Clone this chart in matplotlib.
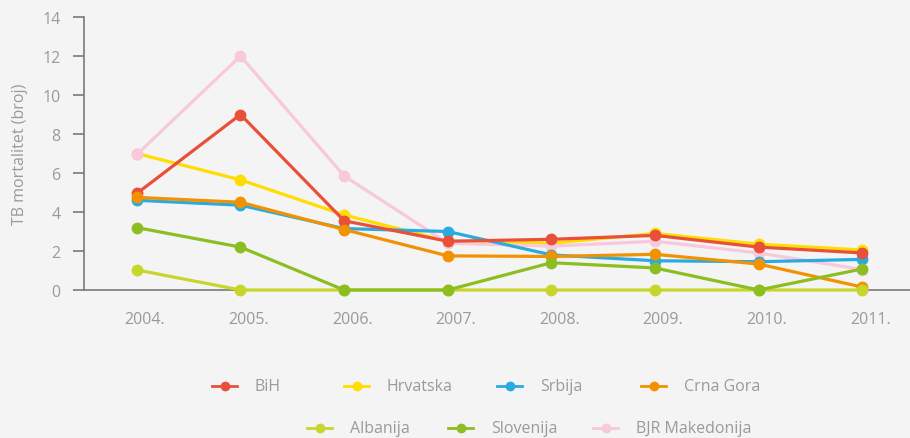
import matplotlib.pyplot as plt
import matplotlib.transforms as mtransforms
from matplotlib.lines import Line2D

years = ['2004.', '2005.', '2006.', '2007.', '2008.', '2009.', '2010.', '2011.']

bih = [4.95, 9.0, 3.55, 2.5, 2.6, 2.8, 2.2, 1.9]
hrvatska = [7.0, 5.65, 3.85, 2.5, 2.4, 2.9, 2.35, 2.05]
srbija = [4.6, 4.35, 3.15, 3.0, 1.8, 1.5, 1.45, 1.57]
crna_gora = [4.75, 4.5, 3.1, 1.75, 1.72, 1.83, 1.33, 0.15]
albanija = [1.03, 0, 0, 0, 0, 0, 0, 0]
slovenija = [3.2, 2.2, 0, 0, 1.4, 1.13, 0, 1.08]
makedonija = [6.95, 12.0, 5.85, 2.4, 2.25, 2.5, 1.9, 1.05]

GRAY = '#9a9a9a'
BG = '#f4f4f4'
W, H = 910, 439

plt.rcParams['font.family'] = ['Open Sans', 'DejaVu Sans']

series = [
    ('BiH', bih, '#e8503a'),
    ('Hrvatska', hrvatska, '#ffdd00'),
    ('Srbija', srbija, '#29abe2'),
    ('Crna Gora', crna_gora, '#f39200'),
    ('Albanija', albanija, '#c8d62b'),
    ('Slovenija', slovenija, '#8cbe22'),
    ('BJR Makedonija', makedonija, '#f8c8dc'),
]
# stacking of the lines, so overlaps look like the original
zorders = [3.25, 3.1, 3.2, 3.3, 3.4, 3.5, 3.15]

fig = plt.figure(figsize=(W / 100, H / 100), dpi=100, facecolor=BG)
ax = fig.add_axes([84 / W, 1 - 291 / H, 1 - 84 / W, 273 / H])
ax.set_facecolor(BG)

x = list(range(len(years)))
for (name, vals, col), z in zip(series, zorders):
    ax.plot(x, vals, color=col, lw=2.3, marker='o', ms=7.5,
            clip_on=False, zorder=z, label=name)

ax.set_xlim(-0.51, 7.46)
ax.set_ylim(0, 14)
ax.set_yticks(range(0, 15, 2))
ax.set_xticks(x)
ax.set_xticklabels(years)

for s in ['top', 'right']:
    ax.spines[s].set_visible(False)
for s in ['left', 'bottom']:
    ax.spines[s].set_color('#7a7a7a')
    ax.spines[s].set_linewidth(1.2)

ax.tick_params(axis='y', direction='out', length=8, width=1.2,
               color='#7a7a7a', labelcolor=GRAY, labelsize=11.5, pad=9)
ax.tick_params(axis='x', length=0, labelcolor=GRAY, labelsize=11.5, pad=15)
# year labels sit a little right of the points in the original
shift = mtransforms.ScaledTranslation(8 / 100, 0, fig.dpi_scale_trans)
for lab in ax.get_xticklabels():
    lab.set_transform(lab.get_transform() + shift)
ax.set_ylabel('TB mortalitet (broj)', color=GRAY, fontsize=11.5, labelpad=10)

# legend, two centred rows, drawn by hand in pixel positions
legend_rows = [
    (387, [0, 1, 2, 3], [212, 344, 497, 641]),
    (429, [4, 5, 6], [307, 448, 593]),
]
for y_px, idx, starts in legend_rows:
    fy = 1 - y_px / H
    for i, x0 in zip(idx, starts):
        name, _, col = series[i]
        fig.add_artist(Line2D([x0 / W, (x0 + 25) / W], [fy, fy], color=col, lw=2,
                              transform=fig.transFigure))
        fig.add_artist(Line2D([(x0 + 12.5) / W], [fy], color=col, marker='o', ms=6,
                              transform=fig.transFigure))
        fig.text((x0 + 43) / W, fy, name, color=GRAY, fontsize=11.5,
                 va='center', ha='left')

fig.savefig('out.png', dpi=100, facecolor=BG)
